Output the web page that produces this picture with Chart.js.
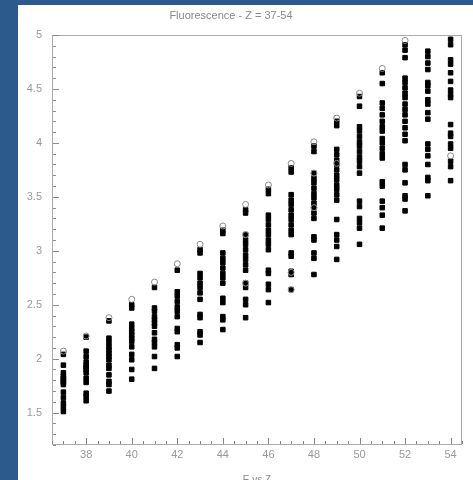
<!DOCTYPE html>
<html>
<head>
<meta charset="utf-8">
<script src="https://cdn.jsdelivr.net/npm/chart.js@4/dist/chart.umd.min.js"></script>
<style>
  html, body { margin: 0; padding: 0; background: #2c5a8c; }
  #wrap { width: 473px; height: 480px; }
</style>
</head>
<body>
<div id="wrap"><canvas id="myChart" width="473" height="480"></canvas></div>
<script>
// data: line energies (keV) for each Z
var zValues = [37, 38, 39, 40, 41, 42, 43, 44, 45, 46, 47, 48, 49, 50, 51, 52, 53, 54]
var e37 = [2.04, 1.94, 1.87, 1.84, 1.82, 1.81, 1.79, 1.78, 1.76, 1.69, 1.64, 1.59, 1.55, 1.51]
var e38 = [2.20, 2.07, 2.02, 1.97, 1.94, 1.92, 1.90, 1.87, 1.82, 1.78, 1.68, 1.65, 1.61]
var e39 = [2.35, 2.19, 2.15, 2.11, 2.08, 2.05, 2.02, 1.99, 1.94, 1.91, 1.85, 1.79, 1.76, 1.70]
var e40 = [2.50, 2.47, 2.32, 2.28, 2.25, 2.22, 2.19, 2.16, 2.11, 2.04, 1.99, 1.90, 1.81]
var e41 = [2.66, 2.47, 2.44, 2.39, 2.36, 2.33, 2.30, 2.24, 2.18, 2.15, 2.11, 2.02, 1.91]
var e42 = [2.82, 2.62, 2.58, 2.53, 2.48, 2.44, 2.39, 2.28, 2.25, 2.13, 2.10, 2.02]
var e43 = [3.01, 2.98, 2.79, 2.75, 2.70, 2.66, 2.61, 2.55, 2.41, 2.38, 2.25, 2.22, 2.15]
var e44 = [3.19, 3.16, 2.98, 2.93, 2.89, 2.84, 2.79, 2.75, 2.70, 2.56, 2.52, 2.39, 2.36, 2.27]
var e45 = [3.38, 3.35, 3.15, 3.10, 3.06, 3.01, 2.96, 2.92, 2.87, 2.82, 2.70, 2.66, 2.55, 2.50, 2.38]
var e46 = [3.57, 3.53, 3.33, 3.29, 3.24, 3.19, 3.15, 3.10, 3.06, 3.01, 2.82, 2.79, 2.69, 2.64, 2.52]
var e47 = [3.77, 3.73, 3.52, 3.47, 3.43, 3.38, 3.33, 3.29, 3.24, 3.19, 3.15, 2.98, 2.95, 2.81, 2.78, 2.64]
var e48 = [3.97, 3.92, 3.72, 3.67, 3.63, 3.58, 3.53, 3.49, 3.44, 3.40, 3.35, 3.30, 3.13, 3.10, 2.98, 2.93, 2.78]
var e49 = [4.20, 4.16, 3.94, 3.89, 3.84, 3.80, 3.75, 3.70, 3.66, 3.61, 3.57, 3.52, 3.47, 3.29, 3.15, 3.10, 3.04, 2.92]
var e50 = [4.43, 4.34, 4.15, 4.11, 4.06, 4.01, 3.97, 3.92, 3.87, 3.83, 3.78, 3.72, 3.46, 3.41, 3.30, 3.26, 3.21, 3.06]
var e51 = [4.65, 4.55, 4.37, 4.32, 4.26, 4.20, 4.15, 4.11, 4.04, 4.00, 3.95, 3.90, 3.86, 3.64, 3.60, 3.46, 3.40, 3.33, 3.21]
var e52 = [4.91, 4.86, 4.79, 4.60, 4.56, 4.51, 4.46, 4.42, 4.36, 4.31, 4.26, 4.20, 4.14, 4.08, 4.02, 3.80, 3.75, 3.63, 3.51, 3.48, 3.37]
var e53 = [4.85, 4.80, 4.74, 4.68, 4.56, 4.53, 4.48, 4.40, 4.36, 4.28, 4.22, 3.99, 3.94, 3.88, 3.80, 3.68, 3.65, 3.51]
var e54 = [4.96, 4.91, 4.77, 4.73, 4.65, 4.57, 4.49, 4.45, 4.42, 4.17, 4.09, 4.06, 3.99, 3.95, 3.83, 3.78, 3.65]
var lines = [e37, e38, e39, e40, e41, e42, e43, e44, e45, e46, e47, e48, e49, e50, e51, e52, e53, e54]

// open circle markers
var circleZ = [37, 38, 39, 40, 41, 42, 43, 44, 45, 45, 45, 46, 47, 47, 47, 48, 48, 48, 49, 49, 50, 51, 52, 54]
var circleE = [2.07, 2.21, 2.38, 2.55, 2.71, 2.88, 3.06, 3.23, 3.43, 3.15, 2.70, 3.61, 3.81, 2.80, 2.64, 4.01, 3.72, 3.40, 4.23, 3.81, 4.46, 4.69, 4.95, 3.88]

// axis ticks
var xTicks = [38, 40, 42, 44, 46, 48, 50, 52, 54]
var yTicks = [1.5, 2, 2.5, 3, 3.5, 4, 4.5, 5]

var squares = []
for (var i = 0; i < zValues.length; i++) {
    for (var j = 0; j < lines[i].length; j++) {
        squares.push({x: zValues[i], y: lines[i][j]})
    }
}
var circles = circleZ.map(function (z, i) { return {x: z, y: circleE[i]} })

var grey = '#9a9a9a'

// white panel + frame + inward ticks like the original
var framePlugin = {
    id: 'frame',
    beforeDraw: function (chart) {
        var c = chart.ctx
        c.save()
        c.fillStyle = '#2c5a8c'
        c.fillRect(0, 0, chart.width, chart.height)
        c.fillStyle = '#ffffff'
        c.fillRect(18, 5, chart.width - 18, chart.height - 5)
        c.restore()
    },
    afterDraw: function (chart) {
        var c = chart.ctx, a = chart.chartArea
        var xs = chart.scales.x, ys = chart.scales.y
        c.save()
        c.strokeStyle = '#aaaaaa'
        c.lineWidth = 1
        c.strokeRect(a.left + 0.5, a.top + 0.5, a.right - a.left - 1, a.bottom - a.top - 1)
        c.strokeStyle = '#888888'
        c.beginPath()
        for (var k2 = 73; k2 <= 109; k2++) { // half units along x
            var v = k2 / 2
            var px = Math.round(xs.getPixelForValue(v)) + 0.5
            var len = (k2 % 4 == 0) ? 6 : 3
            c.moveTo(px, a.bottom - 1)
            c.lineTo(px, a.bottom - 1 - len)
        }
        for (var k = 12; k <= 50; k++) {
            var py = Math.round(ys.getPixelForValue(k / 10)) + 0.5
            var l = (k % 5 == 0) ? 6 : 3
            c.moveTo(a.left + 1, py)
            c.lineTo(a.left + 1 + l, py)
        }
        c.stroke()
        c.restore()
    }
}

var ctx = document.getElementById('myChart')
var myChart = new Chart(ctx, {
    type: 'scatter',
    data: {
        datasets: [{
            label: 'open',
            data: circles,
            pointStyle: 'circle',
            pointRadius: 3,
            backgroundColor: 'rgba(0,0,0,0)',
            borderColor: '#8c8c8c',
            borderWidth: 1
        }, {
            label: 'lines',
            data: squares,
            pointStyle: 'rect',
            pointRadius: 3.2,
            backgroundColor: '#000000',
            borderColor: '#000000',
            borderWidth: 1
        }]
    },
    options: {
        responsive: false,
        animation: false,
        layout: { padding: { left: 0, right: 11, top: 0, bottom: 0 } },
        plugins: {
            legend: { display: false },
            tooltip: { enabled: false },
            title: {
                display: true,
                text: 'Fluorescence - Z = 37-54',
                color: '#8a8a8a',
                font: { family: 'Liberation Sans', size: 11, weight: 'normal' },
                padding: { top: 9.4, bottom: 12.4 }
            }
        },
        scales: {
            x: {
                type: 'linear',
                min: 36.5,
                max: 54.5,
                afterBuildTicks: function (s) { s.ticks = xTicks.map(function (v) { return {value: v} }) },
                afterFit: function (s) { s.height = 35 },
                grid: { display: false, drawTicks: false },
                border: { display: false },
                ticks: {
                    color: grey, padding: 3,
                    font: { family: 'Liberation Sans', size: 11 },
                    callback: function (v) { return String(v) }
                },
                title: {
                    display: true,
                    text: 'E vs Z',
                    color: '#8a8a8a',
                    font: { family: 'Liberation Sans', size: 10 },
                    padding: { top: 0, bottom: -6 }
                }
            },
            y: {
                type: 'linear',
                min: 1.2,
                max: 5,
                afterBuildTicks: function (s) { s.ticks = yTicks.map(function (v) { return {value: v} }) },
                afterFit: function (s) { s.width = 52 },
                grid: { display: false, drawTicks: false },
                border: { display: false },
                ticks: {
                    color: grey, padding: 10,
                    font: { family: 'Liberation Sans', size: 11 },
                    callback: function (v) { return String(v) }
                }
            }
        }
    },
    plugins: [framePlugin]
})
</script>
</body>
</html>
